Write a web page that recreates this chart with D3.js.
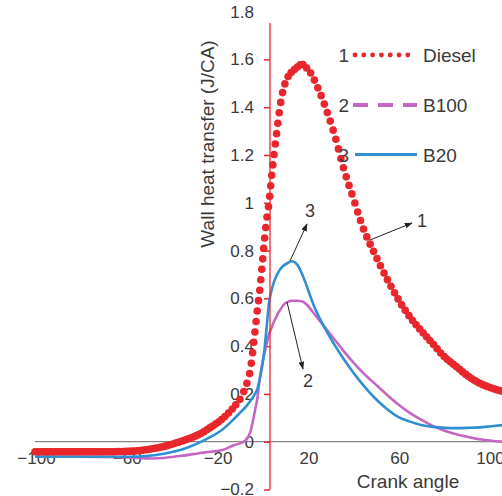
<!DOCTYPE html>
<html>
<head>
<meta charset="utf-8">
<script src="https://cdn.jsdelivr.net/npm/d3@7"></script>
<style>
  html, body { margin: 0; padding: 0; background: #fff; }
  svg { display: block; font-family: "Liberation Sans", Arial, sans-serif; }
</style>
</head>
<body>
<svg id="chart" width="502" height="496"></svg>
<script>
// ---- Data ----
const crankAngle = [-100,-90,-80,-70,-60,-50,-45,-40,-35,-30,-25,-20,-15,-12,-10,-8,-6,-5,-4,-3,-2,-1,0,1,2,3,4,5,6,8,10,12,14,16,18,20,22,25,28,32,36,40,45,50,55,60,65,70,75,80,85,90,95,100];

const diesel = [-0.042,-0.042,-0.042,-0.042,-0.040,-0.030,-0.020,-0.006,0.010,0.030,0.060,0.095,0.145,0.185,0.23,0.30,0.46,0.55,0.63,0.73,0.84,0.93,1.00,1.10,1.19,1.27,1.35,1.42,1.47,1.525,1.55,1.567,1.58,1.565,1.54,1.50,1.455,1.375,1.285,1.14,1.02,0.90,0.79,0.69,0.60,0.525,0.465,0.41,0.355,0.315,0.275,0.245,0.225,0.21];

const b100 = [-0.063,-0.063,-0.063,-0.064,-0.066,-0.07,-0.068,-0.062,-0.056,-0.048,-0.042,-0.035,-0.015,-0.005,0.005,0.04,0.13,0.18,0.26,0.32,0.37,0.41,0.45,0.475,0.50,0.52,0.54,0.555,0.57,0.585,0.59,0.59,0.588,0.575,0.552,0.527,0.502,0.465,0.428,0.378,0.332,0.29,0.245,0.20,0.158,0.122,0.092,0.066,0.046,0.031,0.02,0.01,0.004,0.0];

const b20 = [-0.063,-0.063,-0.063,-0.063,-0.063,-0.058,-0.05,-0.04,-0.025,-0.005,0.02,0.05,0.095,0.125,0.145,0.17,0.20,0.22,0.26,0.31,0.38,0.48,0.58,0.63,0.665,0.69,0.71,0.725,0.735,0.748,0.755,0.742,0.705,0.655,0.60,0.55,0.51,0.455,0.405,0.345,0.29,0.24,0.185,0.14,0.105,0.085,0.07,0.062,0.058,0.057,0.058,0.06,0.065,0.07];

const yTicks = [-0.2,0,0.2,0.4,0.6,0.8,1,1.2,1.4,1.6,1.8];
const xTicks = [-100,-60,-20,20,60,100];
const legendNames = ["Diesel","B100","B20"];
const legendNums = ["1","2","3"];

// ---- Setup ----
const svg = d3.select("#chart");
const x = d3.scaleLinear().domain([-100, 100]).range([35, 503]);
const y = d3.scaleLinear().domain([-0.2, 1.8]).range([489.5, 11.6]);
const xLabel = d3.scaleLinear().domain([-100, 100]).range([36, 490]);

const RED = "#e8262b", BLUE = "#2f8fd2", MAG = "#c765c2", TXT = "#3a3a3a";
const axisX = x(0) + 1;

// zero line
svg.append("line")
  .attr("x1", x(-100)).attr("x2", 502)
  .attr("y1", y(0)).attr("y2", y(0))
  .attr("stroke", "#666").attr("stroke-width", 1);

// y axis
const yAxis = d3.axisLeft(y).tickValues(yTicks).tickSize(6).tickPadding(10)
  .tickFormat(d => d === 0 ? "0" : (d < 0 ? "\u2212" + Math.abs(d) : d3.format("~g")(d)));
const gy = svg.append("g").attr("transform", `translate(${axisX},0)`).call(yAxis);
gy.select(".domain").remove();
gy.selectAll(".tick line").attr("stroke", RED).attr("stroke-width", 1.5)
  .filter(d => d === 1.8).remove();
gy.selectAll(".tick text").attr("fill", TXT).style("font-size", "17px")
  .style("font-family", "'Liberation Sans', Arial, sans-serif");

// x axis labels
const xAxis = d3.axisBottom(xLabel).tickValues(xTicks).tickSize(0).tickPadding(0)
  .tickFormat(d => d < 0 ? "\u2212" + Math.abs(d) : String(d));
const gx = svg.append("g").attr("transform", `translate(0,${y(0) + 10})`).call(xAxis);
gx.select(".domain").remove();
gx.selectAll(".tick text").attr("fill", TXT).style("font-size", "17px")
  .style("font-family", "'Liberation Sans', Arial, sans-serif");

// titles
svg.append("text")
  .attr("transform", "translate(214,144) rotate(-90)")
  .attr("text-anchor", "middle").attr("fill", TXT).style("font-size", "19px")
  .text("Wall heat transfer (J/CA)");
svg.append("text")
  .attr("x", 408).attr("y", 488)
  .attr("text-anchor", "middle").attr("fill", TXT).style("font-size", "19px")
  .text("Crank angle");

// lines
const line = vals => d3.line()
  .x((d, i) => x(crankAngle[i]))
  .y(d => y(d))
  .curve(d3.curveMonotoneX)(vals);

svg.append("path").attr("d", line(b100)).attr("fill", "none")
  .attr("stroke", MAG).attr("stroke-width", 2.6).attr("stroke-linejoin", "round");
svg.append("path").attr("d", line(b20)).attr("fill", "none")
  .attr("stroke", BLUE).attr("stroke-width", 2.6).attr("stroke-linejoin", "round");

// red axis line
svg.append("line")
  .attr("x1", axisX).attr("x2", axisX)
  .attr("y1", y(1.752)).attr("y2", y(-0.2))
  .attr("stroke", RED).attr("stroke-width", 1.5).attr("opacity", 0.85);

// diesel: dotted marker line drawn along the curve (dense where flat, spaced where steep)
const dPath = svg.append("path").attr("d", line(diesel)).attr("fill", "none")
  .attr("stroke", "none");
const node = dPath.node();
const total = node.getTotalLength();
const dots = [];
let prev = node.getPointAtLength(0);
dots.push([prev.x, prev.y]);
let acc = 0;
const stepLen = 0.5;
for (let L = stepLen; L <= total; L += stepLen) {
  const p = node.getPointAtLength(L);
  const dx = p.x - prev.x, dy = p.y - prev.y;
  const seg = Math.hypot(dx, dy) || 1e-6;
  const s2 = (dy / seg) * (dy / seg);
  const spacing = 2.5 + 8 * s2 * s2;
  acc += seg;
  if (acc >= spacing) { dots.push([p.x, p.y]); acc = 0; }
  prev = p;
}
svg.append("g").selectAll("circle").data(dots).join("circle")
  .attr("cx", d => d[0]).attr("cy", d => d[1]).attr("r", 3.8).attr("fill", RED);

// legend
const legRows = [55, 105, 154.5];
const lg = svg.append("g");
legRows.forEach((ly, i) => {
  lg.append("text").attr("x", 349).attr("y", ly + 7).attr("text-anchor", "end")
    .attr("fill", TXT).style("font-size", "19px").text(legendNums[i]);
  lg.append("text").attr("x", 423).attr("y", ly + 7)
    .attr("fill", TXT).style("font-size", "19px").text(legendNames[i]);
});
d3.range(7).forEach(k => {
  lg.append("circle").attr("cx", 355 + k * 8.8).attr("cy", legRows[0]).attr("r", 2.4).attr("fill", RED);
});
lg.append("line").attr("x1", 353).attr("x2", 417).attr("y1", legRows[1]).attr("y2", legRows[1])
  .attr("stroke", MAG).attr("stroke-width", 4).attr("stroke-dasharray", "15 10");
lg.append("line").attr("x1", 355).attr("x2", 417).attr("y1", legRows[2]).attr("y2", legRows[2])
  .attr("stroke", BLUE).attr("stroke-width", 3);

// annotations
svg.append("defs").append("marker")
  .attr("id", "ah").attr("viewBox", "0 0 10 10").attr("refX", 9).attr("refY", 5)
  .attr("markerWidth", 8).attr("markerHeight", 8).attr("orient", "auto")
  .append("path").attr("d", "M0,1.5 L10,5 L0,8.5 Z").attr("fill", "#222");

const ann = [
  { t: "3", x1: 290, y1: 261, x2: 307, y2: 224, tx: 310, ty: 217 },
  { t: "1", x1: 370, y1: 240, x2: 412, y2: 223, tx: 422, ty: 227 },
  { t: "2", x1: 287, y1: 302, x2: 303, y2: 369, tx: 308, ty: 387 }
];
ann.forEach(a => {
  svg.append("line").attr("x1", a.x1).attr("y1", a.y1).attr("x2", a.x2).attr("y2", a.y2)
    .attr("stroke", "#222").attr("stroke-width", 1).attr("marker-end", "url(#ah)");
  svg.append("text").attr("x", a.tx).attr("y", a.ty).attr("text-anchor", "middle")
    .attr("fill", TXT).style("font-size", "18px").text(a.t);
});
</script>
</body>
</html>
